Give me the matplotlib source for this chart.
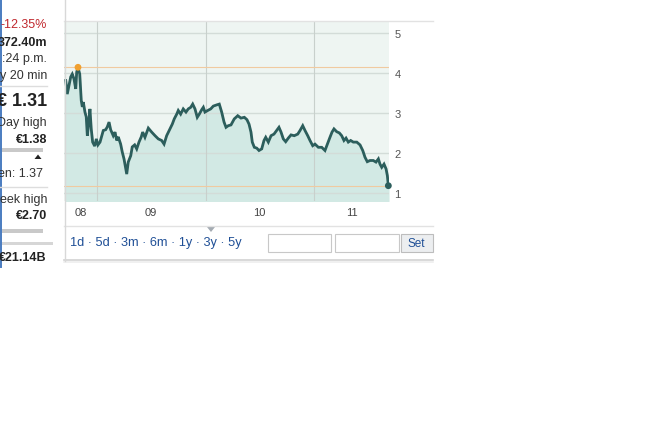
import matplotlib
matplotlib.use("Agg")
from matplotlib import pyplot as plt
from matplotlib.lines import Line2D
from matplotlib.patches import Rectangle, Polygon

plt.rcParams["font.family"] = ["Liberation Sans", "DejaVu Sans"]

# price history (decimal year, EUR)
years = [
    2008.712, 2008.726, 2008.742, 2008.758, 2008.772, 2008.788, 2008.804, 2008.813, 2008.825, 2008.841,
    2008.855, 2008.865, 2008.874, 2008.889, 2008.901, 2008.911, 2008.924, 2008.935, 2008.947, 2008.960,
    2008.979, 2008.994, 2009.009, 2009.028, 2009.043, 2009.058, 2009.080, 2009.095, 2009.111, 2009.126,
    2009.150, 2009.166, 2009.182, 2009.196, 2009.218, 2009.233, 2009.249, 2009.265, 2009.274, 2009.288,
    2009.311, 2009.325, 2009.347, 2009.366, 2009.387, 2009.408, 2009.421, 2009.442, 2009.473, 2009.504,
    2009.535, 2009.565, 2009.596, 2009.618, 2009.642, 2009.673, 2009.694, 2009.712, 2009.735, 2009.749,
    2009.771, 2009.795, 2009.820, 2009.841, 2009.864, 2009.882, 2009.903, 2009.924, 2009.943, 2009.965,
    2009.980, 2009.995, 2010.020, 2010.048, 2010.072, 2010.103, 2010.127, 2010.149, 2010.171, 2010.189,
    2010.210, 2010.235, 2010.265, 2010.297, 2010.327, 2010.358, 2010.382, 2010.401, 2010.419, 2010.431,
    2010.450, 2010.472, 2010.493, 2010.518, 2010.539, 2010.555, 2010.579, 2010.604, 2010.631, 2010.656,
    2010.677, 2010.696, 2010.717, 2010.739, 2010.763, 2010.788, 2010.818, 2010.850, 2010.871, 2010.896,
    2010.917, 2010.942, 2010.963, 2010.988, 2011.009, 2011.040, 2011.071, 2011.101, 2011.123, 2011.147,
    2011.166, 2011.184, 2011.209, 2011.233, 2011.255, 2011.276, 2011.295, 2011.316, 2011.338, 2011.362,
    2011.394, 2011.424, 2011.449, 2011.470, 2011.491, 2011.516, 2011.546, 2011.571, 2011.593, 2011.608,
    2011.624, 2011.645, 2011.664, 2011.676, 2011.685,
]
prices = [
    3.80, 3.46, 3.67, 3.89, 3.96, 3.84, 3.59, 4.01, 4.13, 3.96,
    3.30, 3.14, 3.26, 3.01, 2.89, 2.42, 2.76, 3.09, 2.59, 2.26,
    2.16, 2.34, 2.19, 2.26, 2.41, 2.55, 2.57, 2.64, 2.76, 2.57,
    2.42, 2.51, 2.30, 2.39, 2.21, 2.01, 1.84, 1.59, 1.46, 1.76,
    1.92, 2.14, 2.19, 2.09, 2.26, 2.39, 2.51, 2.38, 2.61, 2.51,
    2.42, 2.34, 2.30, 2.21, 2.42, 2.59, 2.71, 2.84, 2.96, 3.05,
    2.96, 3.09, 3.01, 3.09, 3.13, 3.21, 3.09, 2.88, 2.96, 3.07,
    3.13, 3.01, 3.05, 3.09, 3.16, 3.19, 3.21, 3.01, 2.76, 2.63,
    2.67, 2.69, 2.84, 2.92, 2.86, 2.88, 2.82, 2.71, 2.51, 2.26,
    2.13, 2.11, 2.05, 2.09, 2.30, 2.38, 2.26, 2.42, 2.46, 2.55,
    2.63, 2.51, 2.34, 2.27, 2.36, 2.44, 2.42, 2.46, 2.55, 2.67,
    2.55, 2.42, 2.30, 2.17, 2.21, 2.13, 2.13, 2.05, 2.21, 2.38,
    2.51, 2.59, 2.52, 2.49, 2.42, 2.30, 2.36, 2.26, 2.30, 2.26,
    2.26, 2.19, 2.05, 1.88, 1.77, 1.80, 1.80, 1.76, 1.84, 1.71,
    1.63, 1.71, 1.59, 1.42, 1.17,
]

year_ticks = [2009, 2010, 2011]
year_label_pos = [2008.848, 2009.5, 2010.5, 2011.345]
year_labels = ["08", "09", "10", "11"]
price_ticks = [1, 2, 3, 4, 5]
periods = "1d · 5d · 3m · 6m · 1y · 3y · 5y"

W, H = 671, 427
def fx(x): return x / W
def fy(y): return 1 - y / H

fig = plt.figure(figsize=(W / 100, H / 100), dpi=100)
fig.patch.set_facecolor("white")

ax = fig.add_axes([fx(64), fy(202), (389 - 64) / W, 180 / H])
ax.set_facecolor("#eef5f2")
ymin, ymax = 0.7875, 5.2875
ax.set_xlim(2008.696, 2011.691)
ax.set_ylim(ymin, ymax)

ax.fill_between(years, prices, ymin, color="#d2e9e4", zorder=1)
for p in price_ticks:
    ax.axhline(p, color="#d3dcd8", lw=1, zorder=2)
for yt in year_ticks:
    ax.axvline(yt, color="#c8d0cc", lw=0.8, zorder=2)
ax.axhline(max(prices), color="#f0caa0", lw=0.8, zorder=2)
ax.axhline(min(prices), color="#f0caa0", lw=0.8, zorder=2)
ax.plot(years, prices, color="#2c5e5c", lw=2.0, zorder=3, solid_joinstyle="miter")
imax = prices.index(max(prices))
ax.scatter([years[imax]], [prices[imax]], s=24, color="#f0a030", zorder=4, edgecolors="none", clip_on=False)
ax.scatter([years[-1]], [prices[-1]], s=24, color="#2c5e5c", zorder=4, edgecolors="none", clip_on=False)

ax.yaxis.tick_right()
ax.set_yticks(price_ticks)
ax.set_yticklabels([str(p) for p in price_ticks])
ax.tick_params(axis="y", length=0, pad=4, labelsize=8, labelcolor="#555555")
ax.set_xticks(year_ticks)
ax.set_xticklabels([])
ax.set_xticks(year_label_pos, minor=True)
ax.set_xticklabels(year_labels, minor=True)
ax.tick_params(axis="x", which="both", length=0, pad=4, labelsize=8, labelcolor="#444444")
for s in ax.spines.values():
    s.set_visible(False)

def hline(y, x0, x1, c, lw=1):
    fig.add_artist(Line2D([fx(x0), fx(x1)], [fy(y), fy(y)], transform=fig.transFigure, color=c, lw=lw))

def vline(x, y0, y1, c, lw=1):
    fig.add_artist(Line2D([fx(x), fx(x)], [fy(y0), fy(y1)], transform=fig.transFigure, color=c, lw=lw))

def box(x0, y0, x1, y1, fc, ec):
    fig.add_artist(Rectangle((fx(x0), fy(y1)), (x1 - x0) / W, (y1 - y0) / H,
                             transform=fig.transFigure, fc=fc, ec=ec, lw=0.8))

# page frame
hline(22, 64, 433, "#e2e2e2")
hline(227, 64, 433, "#e2e2e2")
hline(261, 64, 433, "#d2d2d2", 1.2)
hline(263, 64, 433, "#eeeeee", 1.2)
vline(64.5, 0, 262, "#d8d8d8")
vline(0.6, 0, 268, "#4a7cc0", 1.4)

# range selector
fig.text(fx(70), fy(243), periods, ha="left", va="center", fontsize=9.2, color="#1f4f96")
fig.add_artist(Polygon([[fx(207), fy(228)], [fx(215), fy(228)], [fx(211), fy(233)]],
                       closed=True, transform=fig.transFigure, fc="#a4abb2", ec="none"))
box(268, 235, 331, 253, "white", "#c8c8c8")
box(335, 235, 399, 253, "white", "#c8c8c8")
box(401, 235, 433, 253, "#eceef0", "#bdbdbd")
fig.text(fx(416), fy(244), "Set", ha="center", va="center", fontsize=8.5, color="#1f4f96")

# left quote panel
dark = "#222222"
fig.text(fx(47), fy(25), "-12.35%", ha="right", va="center", fontsize=9, color="#c0272d")
fig.text(fx(47), fy(43), "372.40m", ha="right", va="center", fontsize=9, color=dark, weight="bold")
fig.text(fx(47), fy(59), ":24 p.m.", ha="right", va="center", fontsize=9, color="#333333")
fig.text(fx(47), fy(76), "y 20 min", ha="right", va="center", fontsize=9, color="#333333")
hline(87, 0, 47, "#dddddd")
fig.text(fx(47), fy(101), "€ 1.31", ha="right", va="center", fontsize=13, color=dark, weight="bold")
fig.text(fx(47), fy(123), "Day high", ha="right", va="center", fontsize=9, color="#333333")
fig.text(fx(47), fy(140), "€1.38", ha="right", va="center", fontsize=9, color=dark, weight="bold")
box(-1, 149, 43, 153, "#c9c9c9", "none")
fig.add_artist(Polygon([[fx(34.5), fy(160)], [fx(41.5), fy(160)], [fx(38), fy(155.5)]],
                       closed=True, transform=fig.transFigure, fc="#222222", ec="none"))
fig.text(fx(43), fy(174), "en: 1.37", ha="right", va="center", fontsize=9, color="#333333")
hline(188, 0, 47, "#dddddd")
fig.text(fx(47), fy(200), "eek high", ha="right", va="center", fontsize=9, color="#333333")
fig.text(fx(47), fy(216), "€2.70", ha="right", va="center", fontsize=9, color=dark, weight="bold")
box(-1, 230, 43, 234, "#c9c9c9", "none")
box(-1, 243, 53, 246, "#d6d6d6", "none")
fig.text(fx(47), fy(258), "€21.14B", ha="right", va="center", fontsize=9, color=dark, weight="bold")

plt.savefig("out.png", dpi=100, facecolor="white")
